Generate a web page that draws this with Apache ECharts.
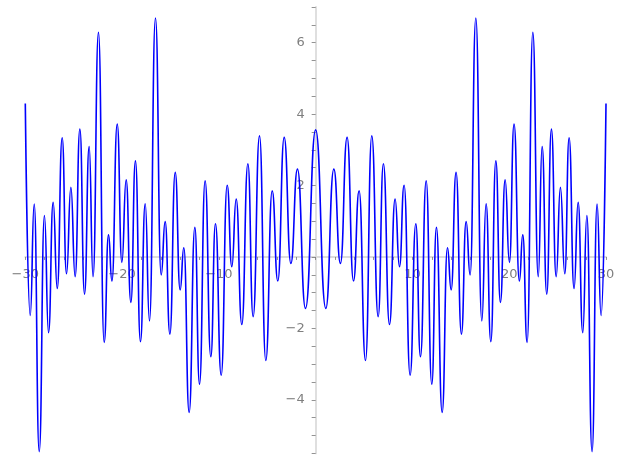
<!DOCTYPE html>
<html>
<head>
<meta charset="utf-8">
<script src="https://cdn.jsdelivr.net/npm/echarts@6/dist/echarts.min.js"></script>
<style>html,body{margin:0;padding:0;background:#fff}#c{width:627px;height:470px}</style>
</head>
<body>
<div id="c"></div>
<script>
// Local extrema of the curve (x, y)
const xs = [
  -30, -29.49, -29.08, -28.56, -28.02, -27.6, -27.12, -26.7, -26.19, -25.74, -25.29, -24.85, -24.36, -23.88, -23.4, -23.0,
  -22.44, -21.85, -21.4, -21.05, -20.5, -20.02, -19.58, -19.09, -18.62, -18.1, -17.61, -17.17, -16.55, -15.96, -15.55, -15.06,
  -14.51, -14.0, -13.62, -13.07, -12.48, -12.0, -11.42, -10.83, -10.35, -9.76, -9.14, -8.66, -8.21, -7.63, -7.0, -6.46,
  -5.8, -5.15, -4.49, -3.91, -3.25, -2.56, -1.88, -1.05,
  0,
  1.05, 1.88, 2.56, 3.25, 3.91, 4.49, 5.15, 5.8,
  6.46, 7.0, 7.63, 8.21, 8.66, 9.14, 9.76, 10.35, 10.83, 11.42, 12.0, 12.48, 13.07, 13.62, 14.0, 14.51,
  15.06, 15.55, 15.96, 16.55, 17.17, 17.61, 18.1, 18.62, 19.09, 19.58, 20.02, 20.5, 21.05, 21.4, 21.85, 22.44,
  23.0, 23.4, 23.88, 24.36, 24.85, 25.29, 25.74, 26.19, 26.7, 27.12, 27.6, 28.02, 28.56, 29.08, 29.49, 30
];
const ys = [
  4.3, -1.64, 1.48, -5.45, 1.16, -2.12, 1.53, -0.88, 3.34, -0.47, 1.95, -0.55, 3.58, -1.04, 3.09, -0.55,
  6.29, -2.39, 0.62, -0.67, 3.72, -0.15, 2.16, -1.27, 2.69, -2.37, 1.49, -1.79, 6.69, -0.5, 0.99, -2.16,
  2.37, -0.92, 0.26, -4.35, 0.83, -3.56, 2.13, -2.79, 0.93, -3.31, 2.01, -0.27, 1.62, -1.89, 2.61, -1.67,
  3.39, -2.9, 1.85, -0.67, 3.35, -0.18, 2.46, -1.44,
  3.56,
  -1.44, 2.46, -0.18, 3.35, -0.67, 1.85, -2.9, 3.39,
  -1.67, 2.61, -1.89, 1.62, -0.27, 2.01, -3.31, 0.93, -2.79, 2.13, -3.56, 0.83, -4.35, 0.26, -0.92, 2.37,
  -2.16, 0.99, -0.5, 6.69, -1.79, 1.49, -2.37, 2.69, -1.27, 2.16, -0.15, 3.72, -0.67, 0.62, -2.39, 6.29,
  -0.55, 3.09, -1.04, 3.58, -0.55, 1.95, -0.47, 3.34, -0.88, 1.53, -2.12, 1.16, -5.45, 1.48, -1.64, 4.3
];
const xTickLabels = [-30, -20, -10, 10, 20, 30];
const yTickLabels = [-4, -2, 2, 4, 6];

const fmt = v => (v < 0 ? '\u2212' + Math.abs(v) : String(v));
const chart = echarts.init(document.getElementById('c'), null, {renderer: 'canvas'});
const labelStyle = {color: '#7f7f7f', fontFamily: 'DejaVu Sans', fontSize: 13};
const gridLeft = 25.3, gridRight = 21, gridTop = 7, gridBottom = 16.6;
const yMin = -5.5, yMax = 7;
const plotW = 627 - gridLeft - gridRight;
const plotH = 470 - gridTop - gridBottom;
chart.setOption({
  animation: false,
  grid: {left: gridLeft, right: gridRight, top: gridTop, bottom: gridBottom, containLabel: false, outerBoundsMode: 'none'},
  xAxis: {
    type: 'value', min: -30, max: 30, interval: 2,
    position: 'bottom', offset: -plotH * (0 - yMin) / (yMax - yMin),
    axisLine: {onZero: false, lineStyle: {color: '#dcdcdc', width: 1.8}},
    axisTick: {show: true, length: 3, lineStyle: {color: '#777', width: 0.8}},
    splitLine: {show: false},
    axisLabel: Object.assign({margin: 11, formatter: v => xTickLabels.includes(v) ? fmt(v) : ''}, labelStyle)
  },
  yAxis: {
    type: 'value', min: yMin, max: yMax, interval: 0.5,
    position: 'left', offset: -plotW / 2,
    axisLine: {show: true, onZero: false, lineStyle: {color: '#dcdcdc', width: 1.8}},
    axisTick: {show: true, length: 4, lineStyle: {color: '#777', width: 0.8}},
    splitLine: {show: false},
    axisLabel: Object.assign({margin: 11, formatter: v => yTickLabels.includes(v) ? fmt(v) : ''}, labelStyle)
  },
  series: [{
    type: 'line',
    data: xs.map((x, i) => [x, ys[i]]),
    showSymbol: false,
    smooth: 0.52,
    smoothMonotone: 'x',
    clip: false,
    lineStyle: {color: '#0000ff', width: 1.6}
  }]
});
</script>
</body>
</html>
